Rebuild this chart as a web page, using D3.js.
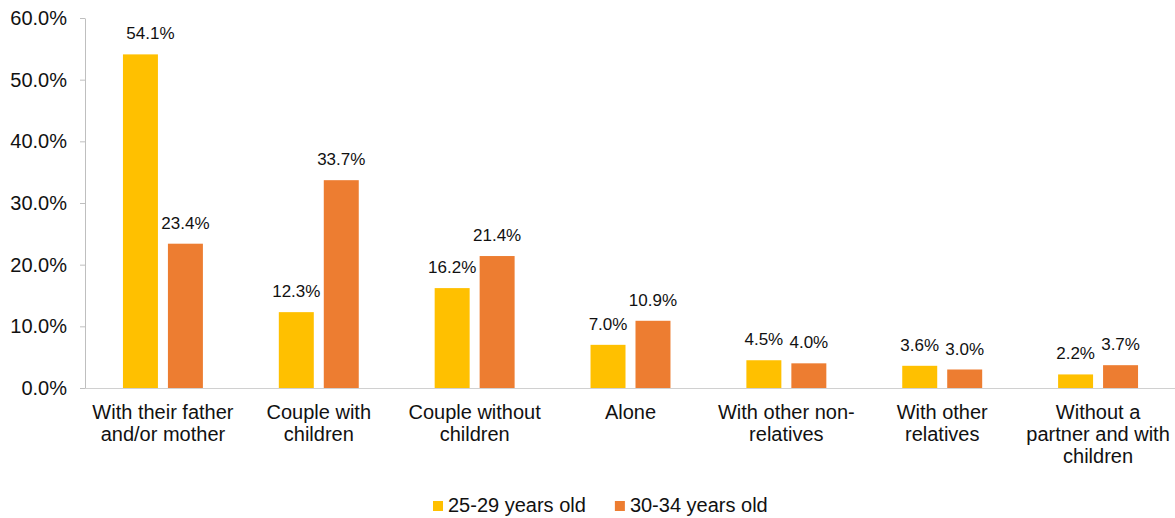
<!DOCTYPE html>
<html>
<head>
<meta charset="utf-8">
<script src="https://cdn.jsdelivr.net/npm/d3@7"></script>
<style>
  body { margin: 0; background: #fff; }
  svg { display: block; font-family: "Liberation Sans", Arial, sans-serif; }
</style>
</head>
<body>
<svg id="canvas" width="1175" height="518"></svg>
<script>
const categories = ["With their father and/or mother", "Couple with children", "Couple without children", "Alone", "With other non-relatives", "With other relatives", "Without a partner and with children"];
const seriesNames = ["25-29 years old", "30-34 years old"];
const age2529 = [54.1, 12.3, 16.2, 7.0, 4.5, 3.6, 2.2];
const age3034 = [23.4, 33.7, 21.4, 10.9, 4.0, 3.0, 3.7];
const yTicks = [0, 10, 20, 30, 40, 50, 60];

const colors = ["#FFC000", "#ED7D31"];

const canvas = d3.select("#canvas");

const x0 = d3.scaleBand().domain(categories).range([85, 1176]);
const x1 = d3.scaleBand().domain(seriesNames).range([0, x0.bandwidth()])
  .paddingInner(10 / 45).paddingOuter(0.844);
const y = d3.scaleLinear().domain([0, 60]).range([388, 18]);

// y axis
const yAxis = canvas.append("g")
  .attr("transform", "translate(85,0)")
  .call(d3.axisLeft(y).tickValues(yTicks).tickSize(5).tickSizeOuter(0).tickPadding(13)
    .tickFormat(d => d.toFixed(1) + "%"));
yAxis.select(".domain").attr("stroke", "#BFBFBF");
yAxis.selectAll(".tick line").attr("stroke", "#BFBFBF");
yAxis.selectAll(".tick text").attr("font-size", 20).attr("fill", "#111").attr("font-family", null);

// bars
const rows = categories.map((c, i) => ({ cat: c, i: i, vals: [age2529[i], age3034[i]] }));

const groups = canvas.selectAll("g.group")
  .data(rows)
  .enter()
  .append("g")
  .attr("class", "group")
  .attr("transform", d => `translate(${x0(d.cat)},0)`);

groups.selectAll("rect")
  .data(d => d.vals.map((v, s) => ({ v: v, s: s, i: d.i })))
  .enter()
  .append("rect")
  .attr("x", d => x1(seriesNames[d.s]))
  .attr("width", x1.bandwidth())
  .attr("y", d => y(d.v))
  .attr("height", d => y(0) - y(d.v))
  .attr("fill", d => colors[d.s]);

// small manual label nudge (first label sits off-centre in the original)
const labelShift = { "0-0": 10 };

groups.selectAll("text.val")
  .data(d => d.vals.map((v, s) => ({ v: v, s: s, i: d.i })))
  .enter()
  .append("text")
  .attr("class", "val")
  .attr("x", d => x1(seriesNames[d.s]) + x1.bandwidth() / 2 + (labelShift[d.i + "-" + d.s] || 0))
  .attr("y", d => y(d.v) - 15)
  .attr("text-anchor", "middle")
  .attr("font-size", 17)
  .attr("fill", "#111")
  .text(d => d.v.toFixed(1) + "%");

// x axis
const xAxis = canvas.append("g")
  .attr("transform", "translate(0,388)")
  .call(d3.axisBottom(x0).tickSize(0).tickSizeOuter(0));
xAxis.select(".domain").attr("stroke", "#D0D0D0").attr("d", "M85,0.5H1175");
xAxis.selectAll(".tick text")
  .attr("font-size", 20)
  .attr("fill", "#111")
  .attr("font-family", null)
  .call(wrap, 148);

function wrap(texts, width) {
  texts.each(function () {
    const text = d3.select(this);
    const tokens = text.text().split(/(?<=-)|\s+/);
    text.text(null);
    const lines = [];
    let line = [];
    const probe = text.append("tspan");
    tokens.forEach(tok => {
      const trial = line.length ? joinTokens(line.concat([tok])) : tok;
      probe.text(trial);
      if (line.length && probe.node().getComputedTextLength() > width) {
        lines.push(joinTokens(line));
        line = [tok];
      } else {
        line.push(tok);
      }
    });
    lines.push(joinTokens(line));
    probe.remove();
    lines.forEach((l, k) => {
      text.append("tspan")
        .attr("x", 0)
        .attr("y", 31 + k * 22)
        .text(l);
    });
    text.attr("dy", null).attr("y", null);
  });
}

function joinTokens(arr) {
  let s = "";
  arr.forEach((t, k) => {
    if (k === 0) s = t;
    else s += (s.endsWith("-") ? "" : " ") + t;
  });
  return s;
}

// legend
const legend = canvas.append("g").attr("id", "legend");
let lx = 433;
seriesNames.forEach((name, s) => {
  legend.append("rect")
    .attr("x", lx).attr("y", 501)
    .attr("width", 10).attr("height", 10)
    .attr("fill", colors[s]);
  const t = legend.append("text")
    .attr("x", lx + 15).attr("y", 512)
    .attr("font-size", 20)
    .attr("fill", "#111")
    .text(name);
  lx += 15 + t.node().getComputedTextLength() + 29;
});
</script>
</body>
</html>
